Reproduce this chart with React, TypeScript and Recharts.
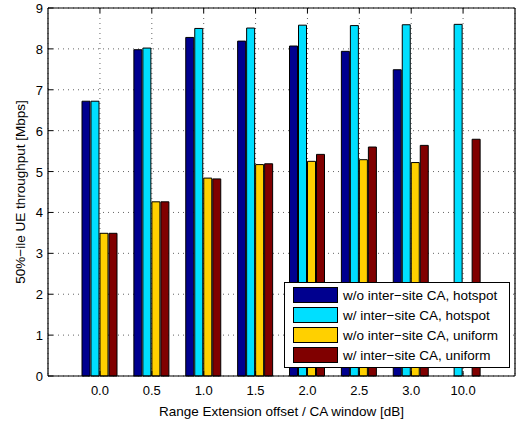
import React from 'react';
import { BarChart, Bar, XAxis, YAxis, CartesianGrid, Legend } from 'recharts';

const categories = ['0.0', '0.5', '1.0', '1.5', '2.0', '2.5', '3.0', '10.0'];
const woHotspot = [6.72, 7.98, 8.28, 8.19, 8.07, 7.94, 7.49, null];
const wHotspot = [6.72, 8.02, 8.5, 8.51, 8.58, 8.57, 8.59, 8.6];
const woUniform = [3.49, 4.26, 4.84, 5.17, 5.25, 5.29, 5.22, null];
const wUniform = [3.49, 4.26, 4.82, 5.19, 5.42, 5.6, 5.64, 5.79];
const yTicks = [0, 1, 2, 3, 4, 5, 6, 7, 8, 9];

const seriesNames = [
  'w/o inter\u2212site CA, hotspot',
  'w/ inter\u2212site CA, hotspot',
  'w/o inter\u2212site CA, uniform',
  'w/ inter\u2212site CA, uniform',
];
const seriesColors = ['#00008f', '#00dfff', '#ffd000', '#800000'];

const data = categories.map((c, i) => ({
  x: c,
  a: woHotspot[i],
  b: wHotspot[i],
  c: woUniform[i],
  d: wUniform[i],
}));

const FONT = 'Liberation Sans, Arial, Helvetica, sans-serif';

const BottomTick = (props: any) => {
  const { x, y, payload } = props;
  return (
    <g>
      <line x1={x} x2={x} y1={y} y2={y - 5} stroke="#000" strokeWidth={1} />
      <text x={x} y={y + 19} textAnchor="middle" fontSize={13} fontFamily={FONT} fill="#000">
        {payload.value}
      </text>
    </g>
  );
};

const TopTick = (props: any) => {
  const { x, y } = props;
  return <line x1={x} x2={x} y1={y} y2={y + 5} stroke="#000" strokeWidth={1} />;
};

const LeftTick = (props: any) => {
  const { x, y, payload } = props;
  return (
    <g>
      <line x1={x} x2={x + 5} y1={y} y2={y} stroke="#000" strokeWidth={1} />
      <text x={x - 5} y={y + 5} textAnchor="end" fontSize={13} fontFamily={FONT} fill="#000">
        {payload.value}
      </text>
    </g>
  );
};

const RightTick = (props: any) => {
  const { x, y } = props;
  return <line x1={x} x2={x - 5} y1={y} y2={y} stroke="#000" strokeWidth={1} />;
};

const renderLegend = () => (
  <div
    style={{
      border: '1px solid #000',
      background: '#fff',
      padding: '2px 5px 2px 8px',
      fontFamily: FONT,
      fontSize: 13.5,
      width: 211,
      boxSizing: 'content-box',
      textAlign: 'left',
    }}
  >
    {seriesNames.map((n, i) => (
      <div key={n} style={{ display: 'flex', alignItems: 'center', height: 20 }}>
        <div
          style={{
            width: 43,
            height: 14,
            background: seriesColors[i],
            border: '1px solid #000',
            marginRight: 5,
            flex: 'none',
          }}
        />
        <span style={{ whiteSpace: 'nowrap' }}>{n}</span>
      </div>
    ))}
  </div>
);

export default function App() {
  return (
    <div style={{ position: 'fixed', left: 0, top: 0, width: 521, height: 421, background: '#fff' }}>
      <BarChart
        width={521}
        height={421}
        data={data}
        margin={{ top: 7, right: 5, left: 0, bottom: 0 }}
        barSize={8}
        barGap={1}
      >
        <CartesianGrid stroke="#666" strokeDasharray="1 4" />
        <XAxis
          dataKey="x"
          padding={{ left: 26, right: 26 }}
          tickSize={0}
          tickMargin={0}
          tickLine={false}
          axisLine={{ stroke: '#000', strokeWidth: 1.2 }}
          tick={<BottomTick />}
          interval={0}
          height={45}
          label={{
            value: 'Range Extension offset / CA window [dB]',
            position: 'insideBottom',
            offset: 5,
            style: { fontSize: 13.5, fontFamily: FONT, fill: '#000' },
          }}
        />
        <XAxis
          xAxisId="top"
          dataKey="x"
          orientation="top"
          padding={{ left: 26, right: 26 }}
          tickSize={0}
          tickMargin={0}
          tickLine={false}
          axisLine={{ stroke: '#000', strokeWidth: 1.2 }}
          tick={<TopTick />}
          interval={0}
          height={1}
        />
        <YAxis
          domain={[0, 9]}
          ticks={yTicks}
          type="number"
          width={48}
          tickSize={0}
          tickMargin={0}
          tickLine={false}
          axisLine={{ stroke: '#000', strokeWidth: 1.2 }}
          tick={<LeftTick />}
          interval={0}
          label={{
            value: '50%\u2212ile UE throughput [Mbps]',
            angle: -90,
            position: 'insideLeft',
            offset: 20,
            style: { textAnchor: 'middle', fontSize: 13.5, fontFamily: FONT, fill: '#000' },
          }}
        />
        <YAxis
          yAxisId="right"
          orientation="right"
          domain={[0, 9]}
          ticks={yTicks}
          type="number"
          width={1}
          tickSize={0}
          tickMargin={0}
          tickLine={false}
          axisLine={{ stroke: '#000', strokeWidth: 1.2 }}
          tick={<RightTick />}
          interval={0}
        />
        <Legend
          layout="horizontal"
          verticalAlign="middle"
          align="center"
          wrapperStyle={{ left: 284, top: 282, width: 'auto' }}
          content={renderLegend}
        />
        <Bar dataKey="a" name={seriesNames[0]} fill={seriesColors[0]} stroke="#000" strokeWidth={1} isAnimationActive={false} />
        <Bar dataKey="b" name={seriesNames[1]} fill={seriesColors[1]} stroke="#000" strokeWidth={1} isAnimationActive={false} />
        <Bar dataKey="c" name={seriesNames[2]} fill={seriesColors[2]} stroke="#000" strokeWidth={1} isAnimationActive={false} />
        <Bar dataKey="d" name={seriesNames[3]} fill={seriesColors[3]} stroke="#000" strokeWidth={1} isAnimationActive={false} />
      </BarChart>
    </div>
  );
}
